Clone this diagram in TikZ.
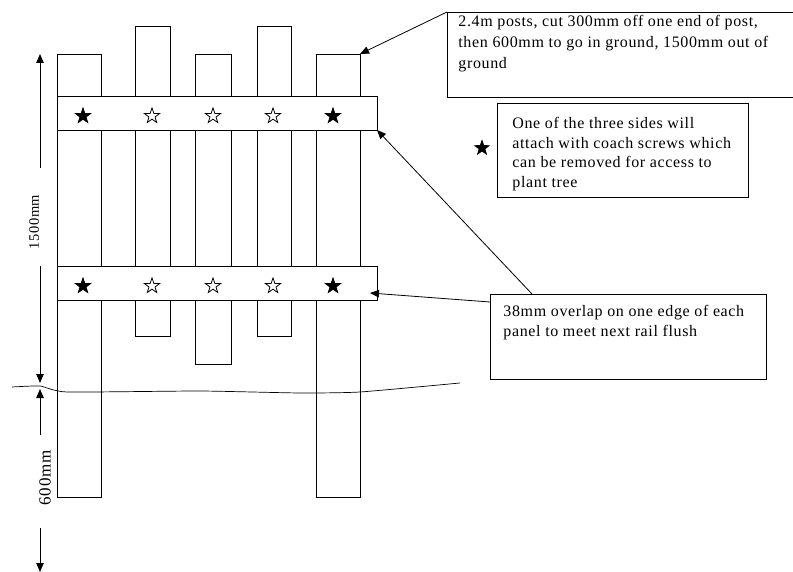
\documentclass[tikz,border=0pt]{standalone}
\usepackage{fontspec}
\setmainfont{Liberation Serif}[LetterSpace=4]
\usetikzlibrary{shapes.geometric,arrows.meta,positioning}

\tikzset{
  box/.style={draw, anchor=north west, inner sep=0pt},
  note/.style={anchor=north west, align=left, inner sep=0pt},
  solidstar/.style={star, star points=5, star point ratio=2.5, minimum size=16pt, inner sep=0pt, draw, fill=black},
  openstar/.style={solidstar, fill=white},
  tip/.style={-{Triangle[length=9pt,width=7.5pt]}}
}

\begin{document}
\begin{tikzpicture}[x=1pt, y=-1pt, line width=0.8pt]
\useasboundingbox (0,0) rectangle (793,572);

% posts
\foreach \xl/\xr/\yt/\yb in {57/101/54/497, 135/170/26/336, 195/231/54/364, 257/291/26/336, 316/360/54/497}
\draw (\xl,\yt) rectangle (\xr,\yb);

% rails with screws
\foreach \yt/\yb/\ys in {96/130/116, 266/300/286} {
\draw[fill=white] (57,\yt) rectangle (377,\yb);
\node[solidstar] (screwL\ys) at (83,\ys) {};
\node[solidstar] (screwR\ys) at (333,\ys) {};
\foreach \x in {152,213,273}
\node[openstar] (screw\x-\ys) at (\x,\ys) {};
}

% ground
\draw[line width=0.7pt] plot[smooth, tension=0.3] coordinates {(12,387) (40,386) (67,392) (200,391) (300,393) (360,392) (460,383)};

% dimensions
\draw[tip] (40,168) -- (40,54);
\node[rotate=90, font=\fontsize{14.5}{16}\selectfont] (tall) at (34,222) {1500mm};
\draw[tip] (40,266) -- (40,383);
\draw[tip] (40,435) -- (40,389);
\node[rotate=90, font=\fontsize{17}{19}\selectfont] (deep) at (45,478) {600mm};
\draw[tip] (40,528) -- (40,572);

% notes
\coordinate (postcorner) at (360,54);
\coordinate (railcorner) at (377,130);
\coordinate (railend) at (370,293);

\node[box, minimum width=360pt, minimum height=85pt] (postbox) at (447,12) {};
\node[note, font=\fontsize{16}{21}\selectfont] (posttext) at ([shift={(11,3)}]postbox.north west)
{2.4m posts, cut 300mm off one end of post,\\then 600mm to go in ground, 1500mm out of\\ground};
\draw[tip] (postbox.north west) -- (postcorner);

\node[box, minimum width=251pt, minimum height=94pt] (starbox) at (497,103) {};
\node[note, font=\fontsize{16}{19.5}\selectfont] (startext) at ([shift={(15,14)}]starbox.north west)
{One of the three sides will\\attach with coach screws which\\can be removed for access to\\plant tree};
\node[solidstar, minimum size=15pt] (keystar) at (482,148) {};

\node[box, minimum width=276pt, minimum height=85pt] (railbox) at (490,294) {};
\node[note, font=\fontsize{16}{19.5}\selectfont] (railtext) at ([shift={(13,11)}]railbox.north west)
{38mm overlap on one edge of each\\panel to meet next rail flush};
\draw[tip] ([shift={(42,0)}]railbox.north west) -- (railcorner);
\draw[tip] ([shift={(0,8)}]railbox.north west) -- (railend);
\end{tikzpicture}
\end{document}
